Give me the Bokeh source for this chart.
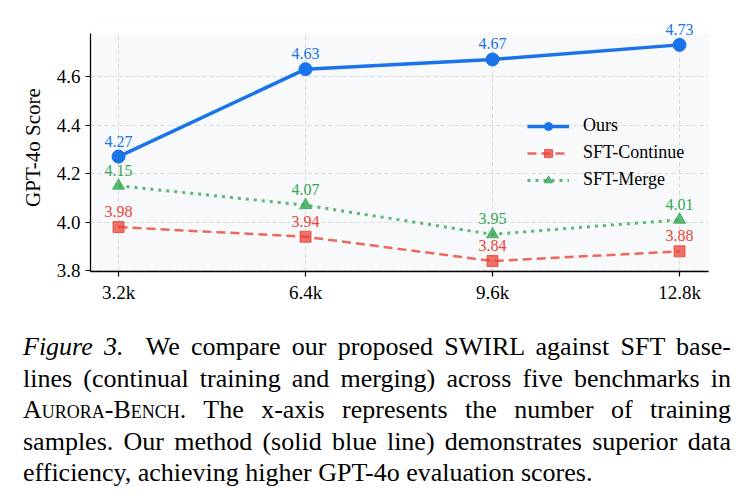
from bokeh.plotting import figure
from bokeh.models import (Range1d, Legend, LegendItem, Div, FixedTicker, PrintfTickFormatter,
                          ColumnDataSource, LabelSet, BoxAnnotation)
from bokeh.layouts import column
from bokeh.embed import file_html
from bokeh.resources import INLINE

# ---- data ----
samples = ["3.2k", "6.4k", "9.6k", "12.8k"]
ours = [4.27, 4.63, 4.67, 4.73]
sft_continue = [3.98, 3.94, 3.84, 3.88]
sft_merge = [4.15, 4.07, 3.95, 4.01]
y_ticks = [3.8, 4.0, 4.2, 4.4, 4.6]
series_names = ["Ours", "SFT-Continue", "SFT-Merge"]

xs = list(range(len(samples)))
SERIF = "Liberation Serif"
Y_LO, Y_HI = 3.797, 4.777      # visible axes box
Y_TOP = 4.818                  # a little head-room so the top value label is not clipped

p = figure(width=739, height=310,
           x_range=Range1d(-0.15, 3.155), y_range=Range1d(Y_LO, Y_TOP),
           output_backend="svg", toolbar_location=None,
           min_border_left=90, min_border_right=31, min_border_top=23, min_border_bottom=39)
p.background_fill_color = "#f8f9fa"
p.border_fill_color = "white"
p.outline_line_color = None

# grid
for g in (p.xgrid, p.ygrid):
    g.grid_line_color = "#d9d9d9"
    g.grid_line_dash = "4 3"
    g.grid_line_width = 1
p.xgrid.ticker = FixedTicker(ticks=xs)
p.ygrid.ticker = FixedTicker(ticks=y_ticks)

# white cover over the head-room strip (hides background + grid there)
p.add_layout(BoxAnnotation(bottom=Y_HI, fill_color="white", fill_alpha=1.0,
                           line_color=None, level="underlay"))

# axes
p.xaxis.ticker = FixedTicker(ticks=xs)
p.xaxis.major_label_overrides = {i: s for i, s in enumerate(samples)}
p.yaxis.ticker = FixedTicker(ticks=y_ticks)
p.yaxis.formatter = PrintfTickFormatter(format="%.1f")
p.yaxis.bounds = (Y_LO, Y_HI)
p.yaxis.axis_label = "GPT-4o Score"
for ax in (p.xaxis, p.yaxis):
    ax.axis_line_color = "black"
    ax.axis_line_width = 1.3
    ax.major_tick_line_color = "black"
    ax.major_tick_line_width = 1.2
    ax.major_tick_out = 5
    ax.major_tick_in = 0
    ax.minor_tick_line_color = None
    ax.major_label_text_font = SERIF
    ax.major_label_text_font_size = "19px"
    ax.major_label_text_color = "black"
    ax.major_label_standoff = 5
p.yaxis.axis_label_text_font = SERIF
p.yaxis.axis_label_text_font_size = "21px"
p.yaxis.axis_label_text_font_style = "normal"
p.yaxis.axis_label_text_color = "black"
p.yaxis.axis_label_standoff = 9

blue = "#1A73E8"
red = "#EA4335"
green = "#34A853"

src_o = ColumnDataSource(dict(x=xs, y=ours, t=[f"{v:.2f}" for v in ours]))
src_c = ColumnDataSource(dict(x=xs, y=sft_continue, t=[f"{v:.2f}" for v in sft_continue]))
src_m = ColumnDataSource(dict(x=xs, y=sft_merge, t=[f"{v:.2f}" for v in sft_merge]))

l_o = p.line("x", "y", source=src_o, line_color=blue, line_width=3.5)
s_o = p.scatter("x", "y", source=src_o, marker="circle", size=13, fill_color=blue, line_color=blue)

l_c = p.line("x", "y", source=src_c, line_color=red, line_alpha=0.8, line_width=2.5, line_dash="9 5")
s_c = p.scatter("x", "y", source=src_c, marker="square", size=11, fill_color=red, fill_alpha=0.75,
                line_color=red, line_alpha=0.8, line_width=1)

l_m = p.line("x", "y", source=src_m, line_color=green, line_alpha=0.8, line_width=3, line_dash="3 5")
s_m = p.scatter("x", "y", source=src_m, marker="triangle", size=12, fill_color=green, fill_alpha=0.8,
                line_color=green, line_alpha=0.8, line_width=1)

for src, col in ((src_o, blue), (src_c, red), (src_m, green)):
    p.add_layout(LabelSet(x="x", y="y", text="t", source=src, text_color=col, text_font=SERIF,
                          text_font_size="16px", text_align="center", text_baseline="alphabetic",
                          y_offset=10))

legend = Legend(items=[
    LegendItem(label=series_names[0], renderers=[l_o, s_o]),
    LegendItem(label=series_names[1], renderers=[l_c, s_c]),
    LegendItem(label=series_names[2], renderers=[l_m, s_m]),
], location=(437, 81))
legend.background_fill_alpha = 0
legend.border_line_color = None
legend.padding = 0
legend.margin = 0
legend.spacing = 6
legend.glyph_width = 42
legend.glyph_height = 20
legend.label_height = 20
legend.label_standoff = 14
legend.label_text_font = SERIF
legend.label_text_font_size = "18px"
legend.label_text_color = "black"
p.add_layout(legend, "center")

line_style = "white-space:nowrap;text-align:justify;text-align-last:justify;"
caption_html = (
    "<div style=\"font-family:'Liberation Serif',serif;font-size:26px;line-height:31.5px;color:black;"
    "width:708px;margin-left:18px;padding-top:16px;\">"
    f"<div style='{line_style}'><i>Figure 3.</i>&nbsp; We compare our proposed SWIRL against SFT base-</div>"
    f"<div style='{line_style}'>lines (continual training and merging) across five benchmarks in</div>"
    f"<div style='{line_style}'><span style='font-variant:small-caps'>Aurora-Bench</span>. The x-axis represents the number of training</div>"
    f"<div style='{line_style}'>samples. Our method (solid blue line) demonstrates superior data</div>"
    "<div style='white-space:nowrap;text-align:left;'>efficiency, achieving higher GPT-4o evaluation scores.</div>"
    "</div>"
)
caption = Div(text=caption_html, width=739, height=186)

layout = column(p, caption, spacing=0)
open("out.html", "w").write(file_html(layout, INLINE))
